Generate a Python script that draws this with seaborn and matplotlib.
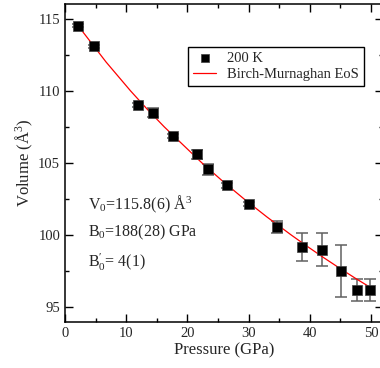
import numpy as np
import pandas as pd
import matplotlib
matplotlib.use("Agg")
import matplotlib.pyplot as plt
import seaborn as sns

# Data
pressure = [2.2, 4.8, 12.0, 14.3, 17.7, 21.6, 23.3, 26.4, 30.1, 34.6, 38.7, 42.0, 45.1, 47.8, 49.9]
volume = [114.5, 113.1, 109.0, 108.5, 106.85, 105.6, 104.55, 103.45, 102.15, 100.55, 99.2, 99.0, 97.5, 96.2, 96.2]
vol_err = [0.1, 0.1, 0.15, 0.3, 0.15, 0.3, 0.4, 0.15, 0.15, 0.43, 0.96, 1.15, 1.8, 0.74, 0.74]

fit_pressure = [2.17, 6.71, 10.71, 13.39, 16.23, 22.39, 25.74, 29.28, 33.03, 37.0, 39.49, 42.06, 44.73, 47.49, 50.0]
fit_volume = [114.5, 112.0, 110.0, 108.75, 107.5, 105.0, 103.75, 102.5, 101.25, 100.0, 99.25, 98.5, 97.75, 97.0, 96.35]

x_ticks = [0, 10, 20, 30, 40, 50]
y_ticks = [95, 100, 105, 110, 115]

sns.set_style("ticks")
plt.rcParams["font.family"] = ["Liberation Serif", "DejaVu Serif"]
plt.rcParams["mathtext.fontset"] = "custom"
plt.rcParams["mathtext.rm"] = "Liberation Serif"
plt.rcParams["mathtext.it"] = "Liberation Serif:italic"
plt.rcParams["mathtext.bf"] = "Liberation Serif:bold"

W, H = 380, 368
fig = plt.figure(figsize=(W / 100, H / 100), dpi=100)
ax = fig.add_axes([65 / W, 1 - 321.7 / H, (383.2 - 65) / W, (321.7 - 4.3) / H])

df = pd.DataFrame({"P": pressure, "V": volume, "err": vol_err})
fit = pd.DataFrame({"P": fit_pressure, "V": fit_volume})

ax.errorbar(df["P"], df["V"], yerr=df["err"], fmt="none", ecolor="#606060",
            elinewidth=1.1, capsize=4.3, capthick=1.1, zorder=2)
sns.lineplot(data=fit, x="P", y="V", ax=ax, color="red", linewidth=0.9,
             label="Birch-Murnaghan EoS", zorder=3, legend=False)
sns.scatterplot(data=df, x="P", y="V", ax=ax, marker="s", s=55, color="black",
                edgecolor="#404040", linewidth=0.5, label="200 K", zorder=4, legend=False)

ax.set_xlim(0, 52)
ax.set_ylim(94, 116)
ax.set_xticks(x_ticks)
ax.set_yticks(y_ticks)
ax.set_xticks([5, 15, 25, 35, 45], minor=True)
ax.set_yticks([97.5, 102.5, 107.5, 112.5], minor=True)
ax.tick_params(which="both", direction="in", top=True, right=True, labelsize=10.5, width=1.0, color="black")
ax.tick_params(which="major", length=6)
ax.tick_params(which="minor", length=3)
for s in ax.spines.values():
    s.set_linewidth(1.1)
    s.set_color("black")

ax.set_xlabel("Pressure (GPa)", fontsize=12, labelpad=2)
ax.set_ylabel(r"Volume ($\mathrm{\AA}^3$)", fontsize=12, labelpad=2)

tkw = dict(fontsize=11.5, va="center", ha="left")
fig.text(88 / W, 1 - 204 / H, r"V$_0$=115.8(6) Å$^3$", **tkw)
fig.text(88 / W, 1 - 232 / H, r"B$_0$=188(28) GPa", **tkw)
fig.text(88 / W, 1 - 262 / H, r"B$_0^{\prime}$= 4(1)", **tkw)

handles, labels = ax.get_legend_handles_labels()
order = [labels.index("200 K"), labels.index("Birch-Murnaghan EoS")]
leg = ax.legend([handles[i] for i in order], [labels[i] for i in order],
                loc="upper left", bbox_to_anchor=(188 / W, 1 - 46.7 / H),
                bbox_transform=fig.transFigure, borderaxespad=0, fontsize=10.5,
                frameon=True, fancybox=False, edgecolor="black", framealpha=1,
                handlelength=1.6, handletextpad=0.7, labelspacing=0.2,
                borderpad=0.35, markerscale=0.8)
leg.get_frame().set_linewidth(1.0)

fig.savefig("out.png", dpi=100)
